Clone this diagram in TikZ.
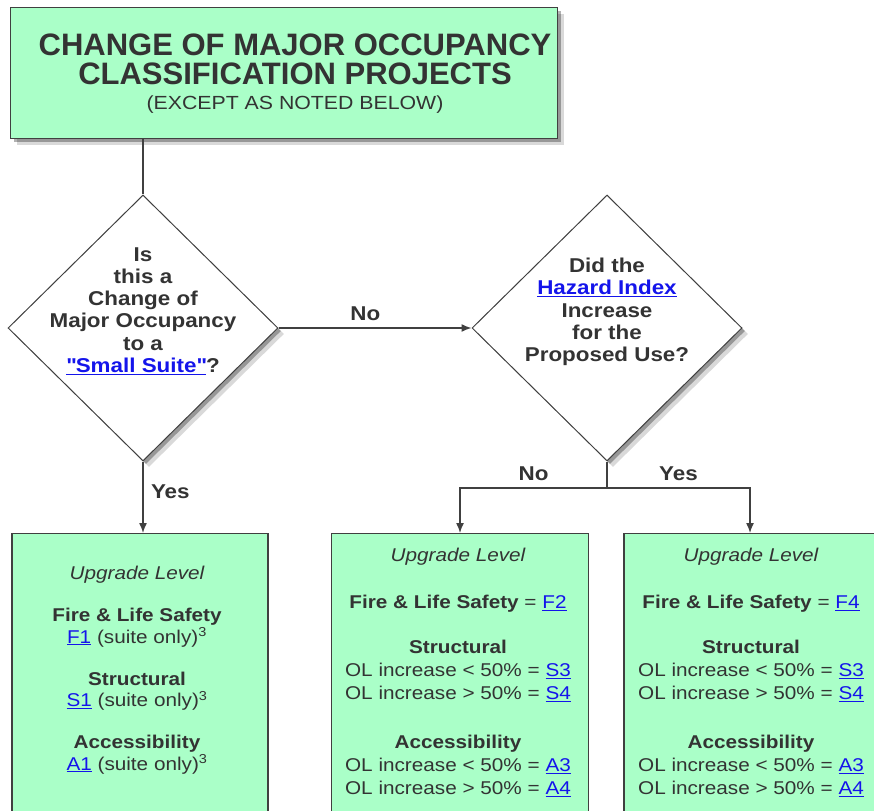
\documentclass[tikz,border=0pt]{standalone}
\usepackage{fontspec}
\setmainfont{Liberation Sans}[FakeStretch=1.12]
\newfontfamily\titlefont{Liberation Sans}
\usepackage{tikz}
\usetikzlibrary{shapes.geometric}
\usetikzlibrary{arrows.meta}
\usetikzlibrary{shadows}
\usepackage{xcolor}
\definecolor{mint}{RGB}{170,255,200}
\definecolor{ink}{RGB}{51,51,51}
\definecolor{edge}{RGB}{64,64,64}
\definecolor{linkblue}{RGB}{20,20,235}
\newcommand{\lnk}[1]{\textcolor{linkblue}{\underline{#1}}}

\begin{document}
\begin{tikzpicture}[x=1pt,y=-1pt,
  deep/.style={general shadow={shadow xshift=3pt,shadow yshift=-3pt,fill=black,opacity=.3},
               general shadow={shadow xshift=6pt,shadow yshift=-6pt,fill=black,opacity=.15}},
  titlebox/.style={draw=edge,fill=mint,line width=1.2pt,minimum width=547pt,minimum height=131pt,anchor=north west,deep},
  titletext/.style={align=center,text=ink,inner sep=0pt},
  decision/.style={diamond,draw=edge,fill=white,line width=1pt,minimum width=270pt,minimum height=266pt,inner sep=0pt,deep},
  qtext/.style={font=\fontsize{20}{22.3}\selectfont\bfseries,text=ink,align=center,inner sep=0pt},
  level/.style={draw=edge,fill=mint,line width=1.2pt,minimum height=300pt,anchor=north,inner sep=0pt},
  boxtext/.style={font=\fontsize{18.5}{23}\selectfont,text=ink,align=center,inner sep=0pt,anchor=north},
  link/.style={draw=edge,line width=1.4pt},
  arr/.style={link,-{Latex[length=10pt,width=8pt]}},
  answer/.style={font=\fontsize{20}{22}\selectfont\bfseries,text=ink}]

\clip (0,0) rectangle (874,810);
\fill[white] (0,0) rectangle (874,810);

% header
\node[titlebox] (title) at (10,7) {};
\node[titletext,font=\titlefont\fontsize{31}{29}\selectfont\bfseries] (titletxt) at (295,74)
  {CHANGE OF MAJOR OCCUPANCY\\CLASSIFICATION PROJECTS\\[-4pt]
   {\rmfamily\mdseries\fontsize{19}{20}\selectfont (EXCEPT AS NOTED BELOW)}};

% questions
\node[decision] (qsuite) at (143,328) {};
\node[qtext] (qsuitetxt) at (143,311) {Is\\this a\\Change of\\Major Occupancy\\to a\\\lnk{\textquotedbl Small Suite\textquotedbl}?};
\node[decision] (qhazard) at (607,328) {};
\node[qtext] (qhazardtxt) at (607,312) {Did the\\\lnk{Hazard Index}\\Increase\\for the\\Proposed Use?};

% upgrade levels
\node[level,minimum width=256pt] (lvlsuite) at (140,533) {};
\node[level,minimum width=257pt] (lvlsame) at (460,533) {};
\node[level,minimum width=252pt] (lvlup) at (750,533) {};

\node[boxtext,font=\fontsize{18.5}{21.5}\selectfont] (lvlsuitetxt) at (137,566) {%
  {\itshape Upgrade Level}\\[20.5pt]
  {\bfseries Fire \& Life Safety}\\
  \lnk{F1} (suite only)\textsuperscript{3}\\[20.5pt]
  {\bfseries Structural}\\
  \lnk{S1} (suite only)\textsuperscript{3}\\[20.5pt]
  {\bfseries Accessibility}\\
  \lnk{A1} (suite only)\textsuperscript{3}};

\node[boxtext] (lvlsametxt) at (458,548) {%
  {\itshape Upgrade Level}\\[24pt]
  {\bfseries Fire \& Life Safety} = \lnk{F2}\\[22pt]
  {\bfseries Structural}\\
  OL increase < 50\% = \lnk{S3}\\
  OL increase > 50\% = \lnk{S4}\\[26pt]
  {\bfseries Accessibility}\\
  OL increase < 50\% = \lnk{A3}\\
  OL increase > 50\% = \lnk{A4}};

\node[boxtext] (lvluptxt) at (751,548) {%
  {\itshape Upgrade Level}\\[24pt]
  {\bfseries Fire \& Life Safety} = \lnk{F4}\\[22pt]
  {\bfseries Structural}\\
  OL increase < 50\% = \lnk{S3}\\
  OL increase > 50\% = \lnk{S4}\\[26pt]
  {\bfseries Accessibility}\\
  OL increase < 50\% = \lnk{A3}\\
  OL increase > 50\% = \lnk{A4}};

% connectors
\coordinate (fork) at (607,488);
\draw[link] (qsuite.north) -- (qsuite.north |- title.south);
\draw[arr] (qsuite.east) -- node[answer,pos=.45,above=3pt] {No} (qhazard.west);
\draw[arr] (qsuite.south) -- node[answer,pos=.42,right=4pt] {Yes} (lvlsuite.north -| qsuite.south);
\draw[link] (qhazard.south) -- (fork);
\draw[arr] (fork) -| node[answer,pos=.25,above=3pt] {No} (lvlsame.north);
\draw[arr] (fork) -| node[answer,pos=.25,above=3pt] {Yes} (lvlup.north);

\end{tikzpicture}
\end{document}
